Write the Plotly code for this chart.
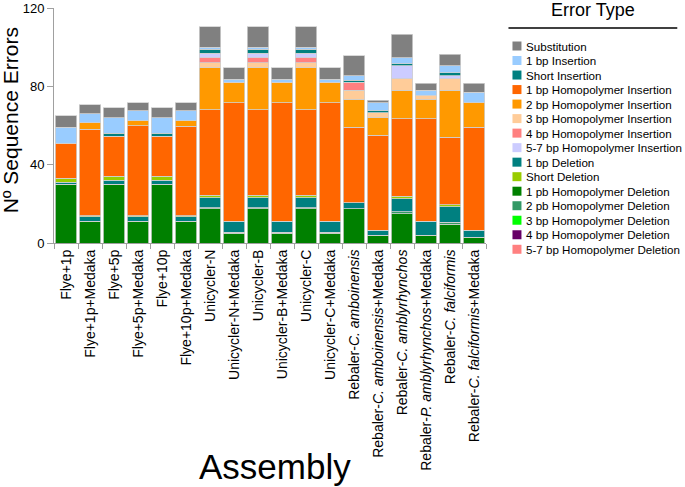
import plotly.graph_objects as go

categories = [
    "Flye+1p", "Flye+1p+Medaka", "Flye+5p", "Flye+5p+Medaka", "Flye+10p", "Flye+10p+Medaka",
    "Unicycler-N", "Unicycler-N+Medaka", "Unicycler-B", "Unicycler-B+Medaka",
    "Unicycler-C", "Unicycler-C+Medaka",
    "Rebaler-<i>C. amboinensis</i>", "Rebaler-<i>C. amboinensis</i>+Medaka",
    "Rebaler-<i>C. amblyrhynchos</i>", "Rebaler-<i>P. amblyrhynchos</i>+Medaka",
    "Rebaler-<i>C. falciformis</i>", "Rebaler-<i>C. falciformis</i>+Medaka",
]

# series values (one per error type), in category order
hp1_del   = [30, 11, 30, 11, 30, 11, 17.5, 5, 17.5, 5, 17.5, 5, 17.5, 4, 15, 4, 9.5, 3]
hp2_del   = [0, 0, 0, 0, 0, 0, 0.5, 0.5, 0.5, 0.5, 0.5, 0.5, 0, 0, 1, 0, 1, 0]
hp3_del   = [0] * 18
hp4_del   = [0] * 18
hp57_del  = [0] * 18
del_1bp   = [1, 2.5, 2, 2.5, 2, 2.5, 5, 5.5, 5, 5.5, 5, 5.5, 3, 2.5, 6.5, 7, 8, 3.5]
short_del = [2, 0.5, 2, 0.5, 2, 0.5, 1.5, 0, 1.5, 0, 1.5, 0, 0, 0, 1.5, 0, 1, 0]
hp1_ins   = [18, 44, 20.5, 46, 20.5, 45.5, 43.5, 60.5, 43.5, 60.5, 43.5, 60.5, 38.5, 48.5, 39.5, 52.5, 34.5, 52.5]
hp2_ins   = [0, 3.5, 0, 2.5, 0, 3, 21.5, 10.5, 21.5, 10.5, 21.5, 10.5, 14.5, 9, 14.5, 10, 24, 12.5]
hp3_ins   = [0, 0, 0, 0, 0, 0, 2.5, 0, 2.5, 0, 2.5, 0, 4.5, 2.5, 6, 2, 6, 0]
hp4_ins   = [0, 0, 0, 0, 0, 0, 2.5, 0, 2.5, 0, 2.5, 0, 4, 0, 0, 0, 0, 0]
hp57_ins  = [0, 0, 0, 0, 0, 0, 2.5, 0, 2.5, 0, 2.5, 0, 0, 0, 6.5, 0, 1.5, 0]
short_ins = [0, 0, 1.5, 0, 1.5, 0, 2, 0, 2, 0, 2, 0, 1, 1, 1, 0, 1.5, 0]
ins_1bp   = [8, 4.5, 8, 5, 8, 5, 1, 1.5, 1, 1.5, 1, 1.5, 2.5, 4, 3, 2.5, 3.5, 5.5]
substitution = [6, 4.5, 5, 4, 5, 4, 10.5, 6, 10.5, 6, 10.5, 6, 10, 1.5, 12, 3.5, 6, 4.5]

# stacking order: bottom -> top
stack = [
    ("1 pb Homopolymer Deletion", hp1_del, "#008000"),
    ("2 pb Homopolymer Deletion", hp2_del, "#339966"),
    ("3 bp Homopolymer Deletion", hp3_del, "#00FF00"),
    ("4 bp Homopolymer Deletion", hp4_del, "#660066"),
    ("5-7 bp Homopolymer Deletion", hp57_del, "#FF8080"),
    ("1 bp Deletion", del_1bp, "#008080"),
    ("Short Deletion", short_del, "#99CC00"),
    ("1 bp Homopolymer Insertion", hp1_ins, "#FF6600"),
    ("2 bp Homopolymer Insertion", hp2_ins, "#FF9900"),
    ("3 bp Homopolymer Insertion", hp3_ins, "#FFCC99"),
    ("4 bp Homopolymer Insertion", hp4_ins, "#FF8080"),
    ("5-7 bp Homopolymer Insertion", hp57_ins, "#CCCCFF"),
    ("Short Insertion", short_ins, "#008080"),
    ("1 bp Insertion", ins_1bp, "#99CCFF"),
    ("Substitution", substitution, "#808080"),
]
legend_order = [
    "Substitution", "1 bp Insertion", "Short Insertion", "1 bp Homopolymer Insertion",
    "2 bp Homopolymer Insertion", "3 bp Homopolymer Insertion", "4 bp Homopolymer Insertion",
    "5-7 bp Homopolymer Insertion", "1 bp Deletion", "Short Deletion",
    "1 pb Homopolymer Deletion", "2 pb Homopolymer Deletion", "3 bp Homopolymer Deletion",
    "4 bp Homopolymer Deletion", "5-7 bp Homopolymer Deletion",
]
color_of = {n: c for n, _, c in stack}

FONT = "Liberation Sans, Arial, sans-serif"
W, H = 685, 487
ML, MR, MT, MB = 54, 198.5, 7.7, 244.3
PW, PH = W - ML - MR, H - MT - MB


def px(x):
    return (x - ML) / PW


def py(y):
    return (H - MB - y) / PH


fig = go.Figure()
for name, vals, col in stack:
    fig.add_trace(go.Bar(
        x=categories, y=vals, name=name, showlegend=False,
        marker=dict(color=col, line=dict(color="#d0d0d0", width=0.8)),
    ))

shapes, annos = [], []
# custom legend
annos.append(dict(text="Error Type", x=px(594), y=py(9.5), xref="paper", yref="paper",
                  xanchor="center", yanchor="middle", showarrow=False,
                  font=dict(family=FONT, size=18, color="black")))
shapes.append(dict(type="line", xref="paper", yref="paper", x0=px(509), x1=px(678),
                   y0=py(27.7), y1=py(27.7), line=dict(color="black", width=1.5)))
for i, name in enumerate(legend_order):
    yc = 45.7 + i * 14.52
    shapes.append(dict(type="rect", xref="paper", yref="paper",
                       x0=px(513), x1=px(522), y0=py(yc + 4.5), y1=py(yc - 4.5),
                       fillcolor=color_of[name], line=dict(width=0)))
    annos.append(dict(text=name, x=px(524.5), y=py(yc), xref="paper", yref="paper",
                      xanchor="left", yanchor="middle", showarrow=False,
                      font=dict(family=FONT, size=11.6, color="black")))

# axis titles as annotations for exact placement
annos.append(dict(text="Assembly", x=px(275.7), y=py(466), xref="paper", yref="paper",
                  xanchor="center", yanchor="middle", showarrow=False,
                  font=dict(family=FONT, size=35, color="black")))
annos.append(dict(text="Nº Sequence Errors", x=px(10), y=py(120), xref="paper", yref="paper",
                  xanchor="center", yanchor="middle", showarrow=False, textangle=-90,
                  font=dict(family=FONT, size=21, color="black")))

fig.update_layout(
    template="none",
    width=W, height=H, barmode="stack", bargap=0.12,
    margin=dict(l=ML, r=MR, t=MT, b=MB, pad=0, autoexpand=False),
    plot_bgcolor="white", paper_bgcolor="white",
    font=dict(family=FONT, color="black"),
    shapes=shapes, annotations=annos,
    xaxis=dict(type="category", tickangle=-90, tickfont=dict(size=14, color="black"),
               ticks="outside", tickson="boundaries", ticklen=5, tickcolor="#a0a0a0",
               showline=True, linecolor="#a0a0a0", showgrid=False, automargin=False),
    yaxis=dict(range=[0, 120], tickvals=[0, 40, 80, 120], ticks="outside", ticklen=6,
               tickcolor="#a0a0a0", showline=True, linecolor="#a0a0a0", showgrid=False,
               zeroline=False, tickfont=dict(size=13, color="black"), automargin=False),
)

fig.write_html("out.html", config={"displayModeBar": False},
               post_script="document.body.style.margin='0';document.body.style.overflow='hidden';")
